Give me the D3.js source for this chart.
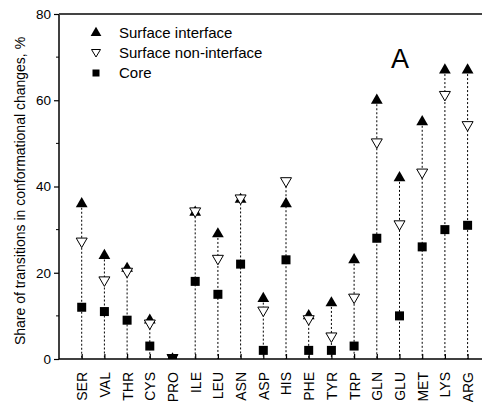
<!DOCTYPE html>
<meta charset="utf-8">
<title>conformational changes</title>
<style>
  body { margin: 0; background: #fff; }
  svg { font-family: "Liberation Sans", Arial, sans-serif; }
</style>
<body>
<div id="chart"></div>
<script src="https://d3js.org/d3.v7.min.js"></script>
<script>

// amino acids along the x axis
var residues = ["SER","VAL","THR","CYS","PRO","ILE","LEU","ASN","ASP","HIS",
                "PHE","TYR","TRP","GLN","GLU","MET","LYS","ARG"];

// share of transitions, %
var surfInterface    = [36, 24, 21, 9, 0, 34, 29, 37, 14, 36, 10, 13, 23, 60, 42, 55, 67, 67];
var surfNonInterface = [27, 18, 20, 8, 0, 34, 23, 37, 11, 41,  9,  5, 14, 50, 31, 43, 61, 54];
var core             = [12, 11,  9, 3, 0, 18, 15, 22,  2, 23,  2,  2,  3, 28, 10, 26, 30, 31];

var yTicks = [0, 20, 40, 60, 80];
var yMinor = [10, 30, 50, 70];

var W = 482, H = 412;
var mLeft = 59, mTop = 14, mBottom = 359;

var svg = d3.select("#chart").append("svg")
    .attr("width", W)
    .attr("height", H);

svg.append("clipPath").attr("id", "plot")
  .append("rect")
  .attr("x", mLeft).attr("y", mTop)
  .attr("width", W - mLeft).attr("height", mBottom - mTop);

// index -1 sits on the y axis, categories step ~22.7px
var x = d3.scaleLinear()
  .domain([-1, 18])
  .range([mLeft, mLeft + 19 * 22.7]);

var y = d3.scaleLinear()
  .domain([0, 80])
  .range([mBottom, mTop]);

// drop lines from the highest point down to zero
var drops = svg.append("g").attr("class", "drops");
residues.forEach(function(r, i) {
  var hi = Math.max(surfInterface[i], surfNonInterface[i], core[i]);
  drops.append("line")
    .attr("x1", x(i)).attr("x2", x(i))
    .attr("y1", y(hi)).attr("y2", y(0))
    .attr("stroke", "#000")
    .attr("stroke-width", 1)
    .attr("stroke-dasharray", "2,2");
});

// y axis
var yaxis = d3.axisLeft(y)
  .tickValues(yTicks)
  .tickSize(5)
  .tickPadding(3);

var gy = svg.append("g")
  .attr("transform", "translate(" + mLeft + ",0)")
  .call(yaxis);
gy.select(".domain").remove();
gy.selectAll("line").attr("stroke", "#000").attr("stroke-width", 1.2);
gy.selectAll("text")
  .style("font-size", "13.5px")
  .attr("fill", "#000");

svg.append("g").selectAll("line")
  .data(yMinor)
  .enter().append("line")
  .attr("x1", mLeft - 3).attr("x2", mLeft)
  .attr("y1", function(d) { return y(d); })
  .attr("y2", function(d) { return y(d); })
  .attr("stroke", "#000");

// x axis with inward ticks
var xaxis = d3.axisBottom(x)
  .tickValues(d3.range(residues.length))
  .tickSize(-5)
  .tickFormat(function(i) { return residues[i]; });

var gx = svg.append("g")
  .attr("transform", "translate(0," + mBottom + ")")
  .call(xaxis);
gx.select(".domain").remove();
gx.selectAll("line").attr("stroke", "#000").attr("stroke-width", 1.2);
gx.selectAll("text")
  .style("font-size", "14px")
  .attr("fill", "#000")
  .attr("text-anchor", "end")
  .attr("transform", "rotate(-90)")
  .attr("x", -13)
  .attr("y", 0)
  .attr("dy", "0.35em");

// markers, clipped at the frame
var marks = svg.append("g").attr("clip-path", "url(#plot)");
var triUp = d3.symbol().type(d3.symbolTriangle).size(60);
var triDown = "M-5.5,-4.5L5.5,-4.5L0,5Z";

marks.append("g").selectAll("path")
  .data(surfInterface)
  .enter().append("path")
  .attr("d", triUp)
  .attr("transform", function(d, i) { return "translate(" + x(i) + "," + y(d) + ")"; })
  .attr("fill", "#000");

marks.append("g").selectAll("path")
  .data(surfNonInterface)
  .enter().append("path")
  .attr("d", triDown)
  .attr("transform", function(d, i) { return "translate(" + x(i) + "," + y(d) + ")"; })
  .attr("fill", "#fff")
  .attr("stroke", "#000")
  .attr("stroke-width", 1);

marks.append("g").selectAll("rect")
  .data(core)
  .enter().append("rect")
  .attr("x", function(d, i) { return x(i) - 4.5; })
  .attr("y", function(d) { return y(d) - 4.5; })
  .attr("width", 9).attr("height", 9)
  .attr("fill", "#000");

// frame lines: left, bottom, top
svg.append("line")
  .attr("x1", mLeft).attr("x2", mLeft).attr("y1", mTop).attr("y2", mBottom)
  .attr("stroke", "#000").attr("stroke-width", 1.5);
svg.append("line")
  .attr("x1", mLeft).attr("x2", W).attr("y1", mBottom).attr("y2", mBottom)
  .attr("stroke", "#000").attr("stroke-width", 1.5);
svg.append("line")
  .attr("x1", mLeft).attr("x2", W).attr("y1", mTop).attr("y2", mTop)
  .attr("stroke", "#444").attr("stroke-width", 2);

// legend
var legendNames = ["Surface interface", "Surface non-interface", "Core"];
var legend = svg.append("g");
legendNames.forEach(function(name, k) {
  var ly = 33 + k * 20;
  if (k == 0) {
    legend.append("path").attr("d", d3.symbol().type(d3.symbolTriangle).size(50))
      .attr("transform", "translate(96," + ly + ")").attr("fill", "#000");
  } else if (k == 1) {
    legend.append("path").attr("d", "M-4.5,-3.5L4.5,-3.5L0,4Z")
      .attr("transform", "translate(96," + ly + ")")
      .attr("fill", "#fff").attr("stroke", "#000");
  } else {
    legend.append("rect").attr("x", 92.5).attr("y", ly - 3.5)
      .attr("width", 7).attr("height", 7).attr("fill", "#000");
  }
  legend.append("text")
    .attr("x", 119).attr("y", ly)
    .attr("dy", "0.35em")
    .style("font-size", "15px")
    .text(name);
});

svg.append("text")
  .attr("x", 391).attr("y", 68)
  .style("font-size", "27px")
  .text("A");

// y title
svg.append("text")
  .attr("transform", "translate(25,191) rotate(-90)")
  .attr("text-anchor", "middle")
  .style("font-size", "14px")
  .text("Share of transitions in conformational changes, %");

</script>
</body>
